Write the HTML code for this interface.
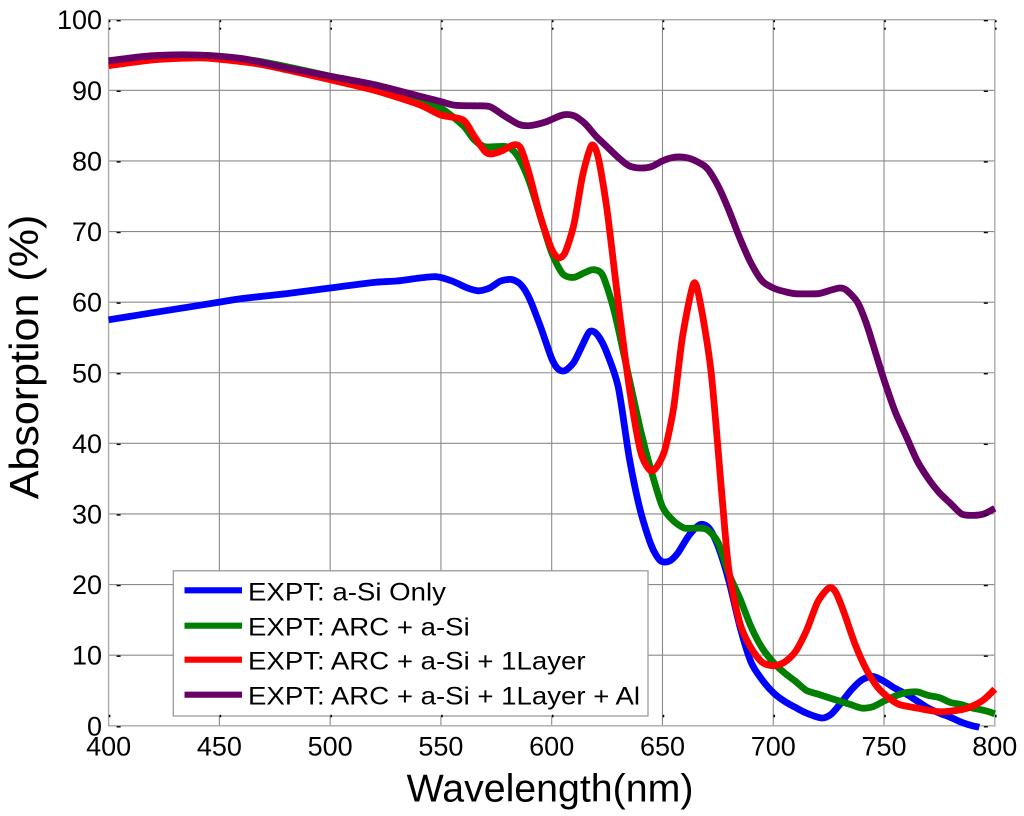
<!DOCTYPE html>
<html>
<head>
<meta charset="utf-8">
<title>Absorption vs Wavelength</title>
<style>
html,body{margin:0;padding:0;background:#fff;width:1024px;height:816px;overflow:hidden}
svg{display:block}
text{font-family:"Liberation Sans",Arial,sans-serif;fill:#000}
</style>
</head>
<body>
<svg id="chart" xmlns="http://www.w3.org/2000/svg" width="1024" height="816" viewBox="0 0 1024 816"></svg>
<script>
const xTicks = [400,450,500,550,600,650,700,750,800];
const yTicks = [0,10,20,30,40,50,60,70,80,90,100];

const blueX = [400,420,440,450,460,480,500,520,530,540,548,555,562,567,572,577,582,586,590,595,600,603,606,610,614,617,620,624,630,635,640,645,649,653,657,662,667,671,675,680,685,690,695,700,705,710,715,722,726,730,735,740,745,750,755,760,765,770,775,780,785,790,793];
const blueY = [57.5,58.5,59.5,60,60.5,61.2,62,62.8,63,63.4,63.6,63,62,61.6,62,63,63.2,62.5,60.5,56.5,52,50.5,50.3,51.5,54,55.8,55.6,53.5,48,38,30.5,25.5,23.4,23.3,24.5,27,28.5,28,25.5,20.5,14,9,6.5,4.7,3.5,2.6,1.8,1.1,1.6,3,5,6.5,7,6.3,5.3,4.5,3.5,2.5,1.8,1.2,0.5,0,-0.2];

const greenX = [400,420,440,450,470,500,520,540,550,560,565,570,580,585,590,595,600,605,610,615,619,623,628,633,640,645,650,655,660,665,670,675,680,685,690,695,700,705,710,715,720,725,730,735,740,745,750,755,760,765,770,775,780,785,790,795,800];
const greenY = [94,94.6,94.8,94.8,94,92,90.5,88.8,87.5,85,83,82,82,80.5,77,72,67,64,63.5,64.2,64.6,63.8,59,52,42,36,31,29,28,28,27.8,26,21.5,18,14,11,9,7.5,6.3,5,4.5,4,3.5,3,2.5,2.7,3.5,4.2,4.7,4.8,4.3,4,3.3,3,2.5,2.2,1.7];

const redX = [400,420,440,450,470,500,520,540,550,560,565,570,573,578,583,586,590,595,600,603,606,610,614,618,621,625,630,635,640,644,647,651,655,659,664,667,672,677,680,685,690,695,700,705,710,715,720,725,728,732,737,742,747,752,757,765,775,785,790,795,800];
const redY = [93.5,94.3,94.6,94.4,93.6,91.5,90,88,86.5,85.8,83.5,81.3,81,81.5,82.3,81.8,78,72,67.5,66.3,67,71,78,82.2,80.5,73,60,48,39,36.3,36.5,39,45,55,62.6,60,50,32,22,14.5,11,9,8.5,9,10.5,13.5,17.5,19.5,19,16,11.5,8,5.5,4,3,2.5,2,2.3,2.8,3.7,5.2];

const purpleX = [400,420,440,460,480,500,520,540,550,556,565,572,578,585,590,597,605,610,615,620,625,630,635,640,645,650,655,660,665,670,675,680,685,690,695,700,705,710,720,725,730,733,738,742,746,750,755,760,765,770,775,780,785,790,795,800];
const purpleY = [94.2,94.9,95,94.5,93.2,92,90.8,89.2,88.4,87.9,87.8,87.7,86.5,85.2,85,85.5,86.5,86.4,85.3,83.5,82,80.5,79.3,79,79.2,80,80.5,80.5,80,79,76.5,73,69,65.5,63,62,61.5,61.2,61.2,61.6,62,61.7,60,57,53,49,44.5,41,37.5,35,33,31.5,30,29.8,30,30.8];

const legendLabels = ["EXPT: a-Si Only","EXPT: ARC + a-Si","EXPT: ARC + a-Si + 1Layer","EXPT: ARC + a-Si + 1Layer + Al"];

const NS = "http://www.w3.org/2000/svg";
const svg = document.getElementById("chart");
const L = 108.6, R = 994.8, T = 19.7, B = 725.8;
function xScale(v){ return L + (v - 400) / 400 * (R - L); }
function yScale(v){ return B - v / 100 * (B - T); }
function make(tag, attrs, text){
  const el = document.createElementNS(NS, tag);
  for (const k in attrs) el.setAttribute(k, attrs[k]);
  if (text !== undefined) el.textContent = text;
  svg.appendChild(el);
  return el;
}

// grid lines
xTicks.slice(1, -1).forEach(v => {
  const el = make("line", {x1:xScale(v), x2:xScale(v), y1:T, y2:B, stroke:"#8a8a8a", "stroke-width":1.1});
  
  
});
yTicks.slice(1, -1).forEach(v => {
  const el = make("line", {x1:L, x2:R, y1:yScale(v), y2:yScale(v), stroke:"#8a8a8a", "stroke-width":1.1});
  
  
});

// axes box
const box = make("rect", {x:L, y:T, width:R-L, height:B-T, fill:"none", stroke:"#ababab", "stroke-width":1.4});



// tick labels
xTicks.forEach(v => {
  const lb = make("text", {x:xScale(v), y:755.5, "text-anchor":"middle", "font-size":27}, String(v));
  
  
});
yTicks.forEach(v => {
  const lb = make("text", {x:102, y:yScale(v)+9.5, "text-anchor":"end", "font-size":27}, String(v));
  
  
});

// smooth curve through the data points
function curvePath(xs, ys){
  const p = xs.map((x, i) => [xScale(x), yScale(ys[i])]);
  let d = "M" + p[0][0].toFixed(1) + " " + p[0][1].toFixed(1);
  for (let i = 0; i < p.length - 1; i++) {
    const a = p[Math.max(i - 1, 0)], b = p[i], c = p[i + 1], e = p[Math.min(i + 2, p.length - 1)];
    const k = 0.13;
    const c1x = b[0] + (c[0] - a[0]) * k, c1y = b[1] + (c[1] - a[1]) * k;
    const c2x = c[0] - (e[0] - b[0]) * k, c2y = c[1] - (e[1] - b[1]) * k;
    d += "C" + c1x.toFixed(1) + " " + c1y.toFixed(1) + " " + c2x.toFixed(1) + " " + c2y.toFixed(1) + " " + c[0].toFixed(1) + " " + c[1].toFixed(1);
  }
  return d;
}
function drawSeries(xs, ys, color){
  return make("path", {d:curvePath(xs, ys), fill:"none", stroke:color, "stroke-width":6.8, "stroke-linejoin":"round", "stroke-linecap":"butt"});
}
const s1 = drawSeries(blueX, blueY, "#0000ff");


const s2 = drawSeries(greenX, greenY, "#007f00");


const s3 = drawSeries(redX, redY, "#ff0000");


const s4 = drawSeries(purpleX, purpleY, "#660066");



// legend
const legendColors = ["#0000ff","#007f00","#ff0000","#660066"];
const legendRows = [590.3,625.7,659.7,694.7];
const lg = make("rect", {x:173.3, y:570.8, width:474.7, height:145.2, fill:"#fff", stroke:"#9a9a9a", "stroke-width":1.3});


legendLabels.forEach((label, i) => {
  const sw = make("line", {x1:184.5, x2:242, y1:legendRows[i], y2:legendRows[i], stroke:legendColors[i], "stroke-width":6.2});
  
  
  const tx = make("text", {"font-size":25, transform:"translate(248," + (legendRows[i] + 10) + ") scale(1.105,1)"}, label);
  
  
});

// tick marks (drawn over the legend, as in the source figure)
xTicks.forEach(v => {
  [[B-11, B-8.5],[T+0.5, T+2.5],[T+8, T+10]].forEach(p => {
    const t = make("line", {x1:xScale(v)+1, x2:xScale(v)+1, y1:p[0], y2:p[1], stroke:"#000", "stroke-width":1.6});
    
    
  });
});
yTicks.forEach(v => {
  [[L+8, L+12],[R-11, R-7]].forEach(p => {
    const t = make("line", {x1:p[0], x2:p[1], y1:yScale(v)+1, y2:yScale(v)+1, stroke:"#000", "stroke-width":1.4});
    
    
  });
});

// axis titles
const xt = make("text", {x:550, y:801.7, "text-anchor":"middle", "font-size":39.3}, "Wavelength(nm)");


const yt = make("text", {x:0, y:0, "text-anchor":"middle", "font-size":41, transform:"translate(38,357) rotate(-90) scale(1.05,1)"}, "Absorption (%)");


</script>
</body>
</html>
